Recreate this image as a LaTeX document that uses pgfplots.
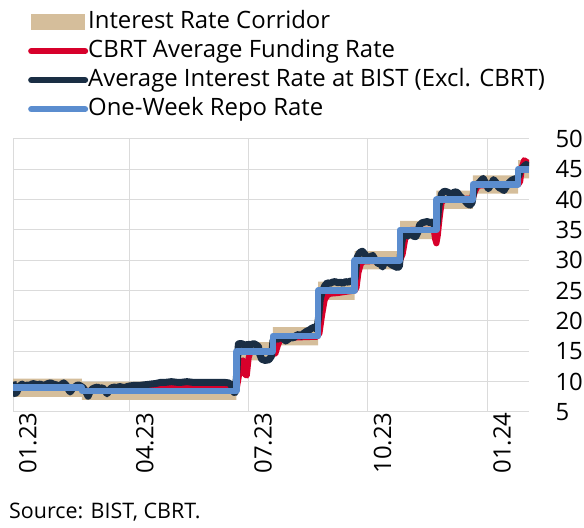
\documentclass[border=0pt]{standalone}
\usepackage{pgfplots}
\pgfplotsset{compat=1.18}
\usepackage{fontspec}
\setmainfont{Open Sans}
\definecolor{corr}{HTML}{D5BE9B}
\definecolor{cbrt}{HTML}{D7002B}
\definecolor{bist}{HTML}{1A2E44}
\definecolor{repo}{HTML}{5B8DCF}
\newcommand{\bigfont}{\fontsize{24}{29}\selectfont}
\begin{document}
\begin{tikzpicture}[x=1bp,y=1bp]
\path[use as bounding box] (0,0) rectangle (584,528);
\begin{axis}[
  at={(13bp,116bp)}, anchor=south west,
  scale only axis, width=516bp, height=273bp,
  xmin=0, xmax=397.3, ymin=5, ymax=50,
  axis line style={draw=none},
  xtick={0,90,181,273,365},
  xticklabels={01.23,04.23,07.23,10.23,01.24},
  ytick={5,10,...,50},
  yticklabel pos=right,
  major tick length=0pt,
  grid=major,
  major grid style={draw=black!14, line width=1bp},
  extra y ticks={5}, extra y tick labels={},
  extra y tick style={grid style={draw=black, line width=1bp}},
  tick label style={font=\bigfont},
  /pgf/number format/assume math mode=true,
  xticklabel style={rotate=90, anchor=east, yshift=-15bp, xshift=3bp},
  yticklabel style={anchor=west, xshift=23bp},
  legend style={at={(axis description cs:0.029,1.4725)}, anchor=north west,
    draw=none, fill=none, font=\bigfont, inner sep=0pt, row sep=5bp,
    nodes={inner sep=0pt, text height=18bp, text depth=6bp},
    /tikz/every even column/.append style={column sep=6bp}},
  legend cell align=left,
  legend image code/.code={\draw[#1, line width=6bp, line cap=round] (0bp,0bp) -- (54bp,0bp);},
]
% Interest rate corridor
\addplot[fill=corr, draw=none,
  legend image code/.code={\fill[corr] (0bp,-8bp) rectangle (54bp,8bp);}]
coordinates {
(0,10.5)(53,10.5)(53,10)(172,10)(172,16.5)(200,16.5)(200,19)(235,19)(235,26.5)(263,26.5)(263,31.5)(298,31.5)(298,36.5)(326,36.5)(326,41.5)(354,41.5)(354,44)(389,44)(389,46.5)(397.3,46.5)
(397.3,43.5)(389,43.5)(389,41)(354,41)(354,38.5)(326,38.5)(326,33.5)(298,33.5)(298,28.5)(263,28.5)(263,23.5)(235,23.5)(235,16)(200,16)(200,13.5)(172,13.5)(172,7)(53,7)(53,7.5)(0,7.5)
};
\addlegendentry{Interest Rate Corridor}
% CBRT average funding rate
\addplot[cbrt, line width=6bp, line join=round] coordinates {
(0,9.0)(53,9.0)(54.5,8.5)(100,8.5)(106,8.8)(110,9.1)(171,9.1)(172.5,9.2)(174,11)(175.5,12.5)(177,13.5)(178.5,11.2)(180,11.0)(181.5,14.0)(183,15.0)(199,15.0)
(200.5,15.0)(202,14.6)(204,16.0)(206,17.0)(210,17.2)(220,17.3)(234,17.4)(236,18)(238,21)(240,23.5)(242,24.2)(244,24.5)(250,24.6)(256,24.8)(263,25)
(264.5,25.5)(266,28)(268,29.5)(270,29.8)(280,29.9)(298,30)(300,31)(302,33.5)(304,34.5)(306,35)(324,35)(325,33.5)(326,32.8)(327,34)(328.5,37)(330,39.5)(332,40)(354,40.2)
(356,41.5)(358,42.3)(370,42.5)(389,42.5)(390.5,43)(392,45.5)(393.5,46.5)(395,46.3)(397.3,46.0)
};
\addlegendentry{CBRT Average Funding Rate}
% Average interest rate at BIST
\addplot[bist, line width=7bp, line join=round] coordinates {
(0,10.0)(1.5,8.0)(3,8.3)(5,9.3)(7,9.6)(9,9.2)(11,9.5)(13,9.3)(15,9.7)(17,9.6)(19,9.5)(21,9.6)(23,9.4)(25,9.5)(27,9.7)(29,9.8)(31,9.6)(33,9.5)(35,9.3)(37,9.5)(39,9.8)(41,9.4)(43,8.6)(44,8.3)(46,8.9)(48,9.2)(50,9.5)(52,9.3)
(54,9.0)(56,8.4)(57.8,7.6)(59,8.2)(61,8.8)(63,9.0)(65,9.1)(67,8.9)(69,9.0)(71,8.5)(72.4,8.0)(74,8.6)(76,9.0)(78,9.1)(80,9.0)(82,9.2)(84,9.1)(86,9.0)(88,9.2)(90,9.3)(94,9.4)(98,9.4)(102,9.5)(106,9.6)(110,9.7)(114,9.9)(118,9.9)(122,10.0)(126,9.9)(130,9.9)(134,10.0)(138,9.9)(142,9.9)(146,9.9)(150,9.9)(154,9.9)(158,9.9)(162,9.9)(166,9.8)(168,9.5)(169.5,8.3)(171,8.2)
(172.5,12)(173.5,16.2)(175,16.3)(177,16.2)(179,15.9)(181,16.2)(183,16.0)(185,16.3)(187,16.1)(189,15.8)(190,14.5)(191.5,13.7)(194,13.5)(197,13.6)(199,14.2)
(200.2,16.8)(202,17.3)(204,17.0)(206,17.4)(208,17.1)(210,16.7)(212,17.0)(214,17.3)(216,17.2)(218,17.6)(220,17.8)(222,17.5)(224,18.0)(226,18.3)(228,18.5)(230,18.8)(232,19.0)(234,18.6)
(235.5,21)(236.5,23.5)(238,24.8)(240,25.8)(242,26.3)(244,26.2)(246,26.4)(248,26.5)(250,26.3)(252,26.4)(254,26.2)(256,26.5)(258,26.4)(260,26.6)(262,26.5)
(263.4,27)(265,30.5)(267,31.3)(269,31.5)(271,31.0)(273,30.2)(275,30.6)(277,30.8)(279,30.0)(281,29.5)(283,29.4)(284.5,28.9)(286,29.6)(288,29.8)(290,29.5)(292,29.2)(294,29.0)(296,28.8)
(297.5,29)(299,32.5)(300.5,34.3)(302,34.5)(304,34.0)(306,34.8)(308,34.0)(310,33.9)(311.5,34.5)(313,35.8)(315,36.2)(317,36.3)(319,36.4)(321,36.2)(323,36.3)(325,35.5)
(326.5,36)(328,39)(330,41.0)(332,41.4)(334,41.3)(336,41.1)(338,40.9)(340,41.3)(342,41.2)(344,40.6)(346,40.2)(348,39.8)(350,39.3)(351.9,39.1)(353.5,39.5)
(355,41.8)(357,42.5)(359,42.8)(361,43.3)(362,43.5)(364,42.7)(366,41.8)(368,42.5)(370,43.3)(372,42.8)(374,42.0)(376,41.8)(378,41.5)(380,42.2)(382,42.8)(384,43.2)(386,43.4)(388,43.5)
(389.5,44.0)(391,45.0)(393,45.4)(395,45.8)(397.3,45.5)
};
\addlegendentry{Average Interest Rate at BIST (Excl. CBRT)}
% One-week repo rate
\addplot[repo, line width=6.5bp, const plot, line join=round] coordinates {
(0,9)(53,8.5)(172,15)(200,17.5)(235,25)(263,30)(298,35)(326,40)(354,42.5)(389,45)(397.3,45)
};
\addlegendentry{One-Week Repo Rate}
\end{axis}
\node[anchor=base west, font=\fontsize{21.5}{26}\selectfont, inner sep=0pt] at (9bp,9bp) {Source: BIST, CBRT.};
\end{tikzpicture}
\end{document}
